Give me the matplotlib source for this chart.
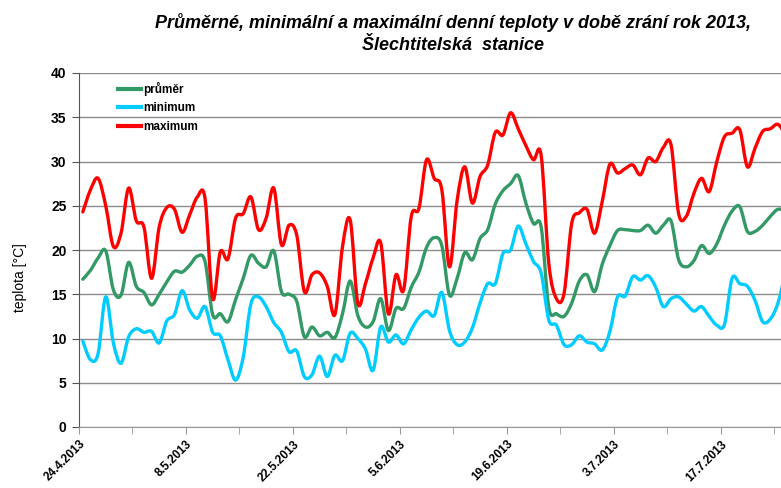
import datetime as dt
import numpy as np
import matplotlib
matplotlib.use('Agg')
import matplotlib.pyplot as plt
import matplotlib.dates as mdates
from matplotlib.path import Path
from matplotlib.patches import PathPatch
from matplotlib.lines import Line2D
from matplotlib.ticker import MultipleLocator, FixedLocator, FuncFormatter

plt.rcParams['font.family'] = ['Liberation Sans', 'DejaVu Sans']

# daily values from 24.4.2013 on
start = dt.date(2013, 4, 24)

prumer = [16.7, 17.7, 19.1, 19.9, 15.5, 14.9, 18.6, 15.9, 15.2, 13.8,
          15.0, 16.4, 17.6, 17.5, 18.3, 19.3, 18.7, 12.7, 12.8, 11.9,
          14.4, 16.8, 19.4, 18.5, 18.1, 19.9, 15.3, 15.0, 14.2, 10.2,
          11.3, 10.3, 10.7, 10.1, 12.8, 16.5, 12.6, 11.3, 11.9, 14.5,
          10.9, 13.4, 13.4, 15.8, 17.5, 20.3, 21.4, 20.5, 14.9, 16.8,
          19.7, 18.9, 21.3, 22.3, 25.2, 26.7, 27.5, 28.4, 25.3, 23.0,
          22.6, 13.5, 12.8, 12.5, 14.0, 16.5, 17.2, 15.3, 18.4, 20.5,
          22.2, 22.3, 22.2, 22.2, 22.8, 21.9, 22.8, 23.3, 18.9, 18.1,
          18.8, 20.5, 19.6, 20.7, 22.8, 24.4, 24.9, 22.1, 22.1, 22.8,
          23.8, 24.6, 24.4]

minimum = [9.7, 7.6, 8.3, 14.7, 9.5, 7.2, 10.2, 11.1, 10.7, 10.8,
           9.5, 12.0, 12.7, 15.4, 13.2, 12.3, 13.6, 10.7, 10.3, 7.6,
           5.3, 7.9, 13.9, 14.7, 13.6, 11.8, 10.7, 8.5, 8.6, 5.7,
           5.9, 8.0, 5.7, 8.1, 7.5, 10.6, 10.0, 8.8, 6.4, 11.3,
           9.6, 10.4, 9.4, 11.0, 12.4, 13.1, 12.6, 15.2, 10.9, 9.3,
           9.6, 11.2, 14.0, 16.2, 16.2, 19.6, 20.0, 22.7, 20.7, 18.7,
           17.4, 12.1, 11.5, 9.3, 9.3, 10.3, 9.6, 9.4, 8.7, 10.8,
           14.7, 14.8, 17.0, 16.6, 17.1, 15.8, 13.6, 14.5, 14.7, 13.9,
           13.1, 13.6, 12.5, 11.5, 11.6, 16.8, 16.2, 15.9, 14.3, 11.9,
           12.2, 14.0, 17.5]

maximum = [24.3, 26.8, 28.1, 25.0, 20.4, 21.9, 27.0, 23.3, 22.6, 16.8,
           22.6, 24.8, 24.6, 22.0, 24.0, 26.0, 25.8, 14.5, 19.8, 19.0,
           23.6, 24.1, 26.0, 22.3, 23.6, 27.0, 20.6, 22.8, 21.7, 15.3,
           17.2, 17.4, 15.9, 12.7, 20.4, 23.4, 14.0, 16.2, 19.1, 20.8,
           12.8, 17.2, 15.5, 23.8, 24.7, 30.2, 28.1, 26.8, 18.1, 25.6,
           29.4, 25.3, 28.3, 29.6, 33.3, 33.0, 35.5, 33.7, 31.8, 30.2,
           30.7, 18.5, 14.5, 15.1, 23.0, 24.2, 24.6, 21.9, 25.5, 29.7,
           28.7, 29.2, 29.6, 28.5, 30.4, 30.0, 31.6, 31.9, 24.1, 23.8,
           26.4, 28.1, 26.6, 30.0, 32.8, 33.2, 33.6, 29.4, 31.5, 33.4,
           33.7, 34.2, 33.0]

series = [('průměr', prumer, '#339966'),
          ('minimum', minimum, '#00CCFF'),
          ('maximum', maximum, '#FF0000')]

x0 = mdates.date2num(start)
days = x0 + np.arange(len(prumer)) + 0.5


def smooth_path(x, y):
    # Excel-like smoothed line: cubic Bezier through every point
    pts = np.column_stack([x, y])
    n = len(pts)
    verts = [pts[0]]
    codes = [Path.MOVETO]
    for i in range(n - 1):
        p0 = pts[max(i - 1, 0)]
        p1 = pts[i]
        p2 = pts[i + 1]
        p3 = pts[min(i + 2, n - 1)]
        c1 = p1 + (p2 - p0) / 6
        c2 = p2 - (p3 - p1) / 6
        verts += [c1, c2, p2]
        codes += [Path.CURVE4] * 3
    return Path(verts, codes)


fig = plt.figure(figsize=(7.81, 4.88), dpi=100)
ax = fig.add_axes([79 / 781, 1 - 427 / 488, 1 - 79 / 781, 354 / 488])

handles = []
for name, vals, col in series:
    ax.add_patch(PathPatch(smooth_path(days, np.array(vals)), fill=False,
                           edgecolor=col, lw=2.4, joinstyle='round', capstyle='round'))
    handles.append(Line2D([], [], color=col, lw=3, label=name))

ax.set_ylim(0, 40)
ax.set_xlim(x0, x0 + 91.9)
ax.yaxis.set_major_locator(MultipleLocator(5))
ax.xaxis.set_major_locator(FixedLocator(x0 + np.arange(0, 92, 14)))
ax.xaxis.set_minor_locator(FixedLocator(x0 + np.arange(7, 92, 14)))


def fmt_date(v, pos):
    d = mdates.num2date(v)
    return f'{d.day}.{d.month}.{d.year}'


ax.xaxis.set_major_formatter(FuncFormatter(fmt_date))
for lab in ax.get_xticklabels():
    lab.set_rotation(45)
    lab.set_ha('right')
    lab.set_rotation_mode('anchor')
    lab.set_fontsize(8.5)
    lab.set_fontweight('bold')
for lab in ax.get_yticklabels():
    lab.set_fontsize(10)
    lab.set_fontweight('bold')

ax.grid(axis='y', color='#8c8c8c', lw=1)
ax.set_axisbelow(True)
for s in ['top', 'right']:
    ax.spines[s].set_visible(False)
ax.spines['left'].set_color('#555555')
ax.spines['bottom'].set_color('#999999')
ax.tick_params(axis='y', length=5, color='#555555', pad=4)
ax.tick_params(axis='x', which='both', length=5, color='#999999', pad=3)

fig.text(20 / 781, 1 - 278 / 488, 'teplota [°C]', rotation=90,
         ha='center', va='center', fontsize=10)

fig.text(453 / 781, 1 - 22 / 488,
         'Průměrné, minimální a maximální denní teploty v době zrání rok 2013,',
         ha='center', va='center', fontsize=13, fontweight='bold', style='italic')
fig.text(453 / 781, 1 - 45 / 488, 'Šlechtitelská  stanice',
         ha='center', va='center', fontsize=13, fontweight='bold', style='italic')

leg = ax.legend(handles=handles, loc='upper left', bbox_to_anchor=(0.04, 1.005),
                frameon=False, handlelength=2.0, handletextpad=0.15,
                labelspacing=0.55, prop={'size': 8.5, 'weight': 'bold'})

fig.savefig('out.png', dpi=100)
